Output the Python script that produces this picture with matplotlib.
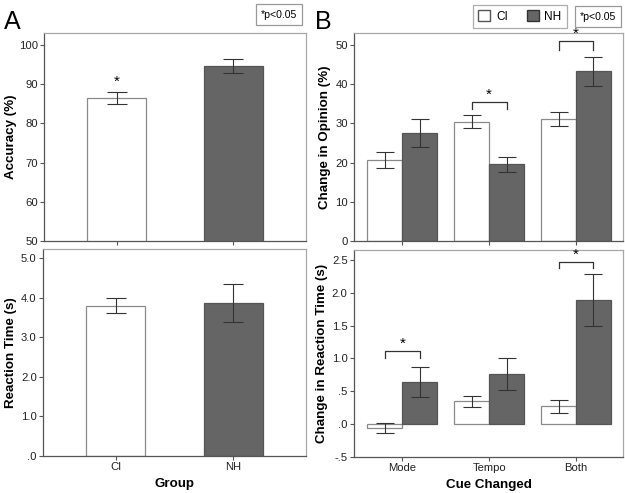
import numpy as np
import matplotlib
matplotlib.use('Agg')
import matplotlib.pyplot as plt
from matplotlib.patches import Patch

plt.rcParams['font.family'] = ['Liberation Sans', 'DejaVu Sans']

# panel A data
groups = ['CI', 'NH']
accuracy = [86.4, 94.5]
accuracy_err = [1.5, 1.8]
rt = [3.80, 3.86]
rt_err = [0.19, 0.48]

# panel B data
cues = ['Mode', 'Tempo', 'Both']
opinion_ci = [20.7, 30.4, 31.0]
opinion_ci_err = [2.0, 1.6, 1.8]
opinion_nh = [27.5, 19.5, 43.2]
opinion_nh_err = [3.5, 1.9, 3.7]
drt_ci = [-0.06, 0.35, 0.275]
drt_ci_err = [0.08, 0.085, 0.10]
drt_nh = [0.64, 0.76, 1.89]
drt_nh_err = [0.23, 0.24, 0.39]

W, H = 625, 493
fig = plt.figure(figsize=(W / 100, H / 100), dpi=100)


def ax_px(left, top, right, bottom):
    return fig.add_axes([left / W, 1 - bottom / H, (right - left) / W, (bottom - top) / H])


dark = '#656565'
edge_light = '#8a8a8a'
err_col = '#333333'
fs = 8.1
lfs = 9.6


def style(ax):
    for s in ['top', 'right']:
        ax.spines[s].set_color('#a8a8a8')
    for s in ['left', 'bottom']:
        ax.spines[s].set_color('#555555')
    for s in ax.spines.values():
        s.set_linewidth(0.9)
    ax.tick_params(axis='both', direction='out', length=3, width=0.8,
                   color='#555555', labelsize=fs, pad=1.5, labelcolor='#222222')


axA1 = ax_px(44, 33, 306, 241)
axA2 = ax_px(43, 249, 306, 456)
axB1 = ax_px(354, 33, 623, 241)
axB2 = ax_px(354, 250, 623, 457)

xa = np.arange(len(groups))
for ax, vals, errs in [(axA1, accuracy, accuracy_err), (axA2, rt, rt_err)]:
    ax.bar(xa, vals, width=0.5, color=['white', dark],
           edgecolor=[edge_light, '#555555'], linewidth=0.9, zorder=2)
    ax.errorbar(xa, vals, yerr=errs, fmt='none', ecolor=err_col,
                elinewidth=0.8, capsize=7, capthick=0.8, zorder=3)
    ax.set_xlim(-0.62, 1.62)
    ax.set_xticks(xa)
    style(ax)

axA1.set_ylim(50, 103)
axA1.set_yticks([50, 60, 70, 80, 90, 100])
axA1.set_xticklabels([])
axA1.set_ylabel('Accuracy (%)', fontsize=lfs, fontweight='bold', labelpad=1)
axA1.text(0, accuracy[0] + accuracy_err[0] + 1.0, '*', ha='center', va='bottom', fontsize=11)

axA2.set_ylim(0, 5.23)
axA2.set_yticks([0, 1, 2, 3, 4, 5])
axA2.set_yticklabels(['.0', '1.0', '2.0', '3.0', '4.0', '5.0'])
axA2.set_xticklabels(groups)
axA2.set_xlabel('Group', fontsize=lfs, fontweight='bold', labelpad=4)
axA2.set_ylabel('Reaction Time (s)', fontsize=lfs, fontweight='bold', labelpad=3)

xb = np.arange(len(cues))
bw = 0.4
for ax, ci, cie, nh, nhe in [(axB1, opinion_ci, opinion_ci_err, opinion_nh, opinion_nh_err),
                             (axB2, drt_ci, drt_ci_err, drt_nh, drt_nh_err)]:
    ax.bar(xb - bw / 2, ci, width=bw, color='white', edgecolor=edge_light, linewidth=0.9, zorder=2)
    ax.bar(xb + bw / 2, nh, width=bw, color=dark, edgecolor='#555555', linewidth=0.9, zorder=2)
    ax.errorbar(xb - bw / 2, ci, yerr=cie, fmt='none', ecolor=err_col,
                elinewidth=0.8, capsize=6.5, capthick=0.8, zorder=3)
    ax.errorbar(xb + bw / 2, nh, yerr=nhe, fmt='none', ecolor=err_col,
                elinewidth=0.8, capsize=6.5, capthick=0.8, zorder=3)
    ax.set_xlim(-0.555, 2.54)
    ax.set_xticks(xb)
    style(ax)


def bracket(ax, i, y, leg):
    x0, x1 = i - bw / 2, i + bw / 2
    ax.plot([x0, x0, x1, x1], [y - leg, y, y, y - leg], color='#333333', lw=0.9, zorder=4)
    ax.text(i, y, '*', ha='center', va='bottom', fontsize=11)


axB1.set_ylim(0, 53)
axB1.set_yticks([0, 10, 20, 30, 40, 50])
axB1.set_xticklabels([])
axB1.set_ylabel('Change in Opinion (%)', fontsize=lfs, fontweight='bold', labelpad=3)
bracket(axB1, 1, 35.5, 1.9)
bracket(axB1, 2, 50.9, 2.3)

axB2.set_ylim(-0.5, 2.65)
axB2.set_yticks([-0.5, 0, 0.5, 1.0, 1.5, 2.0, 2.5])
axB2.set_yticklabels(['-.5', '.0', '.5', '1.0', '1.5', '2.0', '2.5'])
axB2.set_xticklabels(cues)
axB2.set_xlabel('Cue Changed', fontsize=lfs, fontweight='bold', labelpad=4)
axB2.set_ylabel('Change in Reaction Time (s)', fontsize=lfs, fontweight='bold', labelpad=3)
bracket(axB2, 0, 1.12, 0.11)
bracket(axB2, 2, 2.47, 0.10)

# panel letters
fig.text(4 / W, 1 - 29 / H, 'A', fontsize=18, ha='left', va='baseline')
fig.text(315 / W, 1 - 29 / H, 'B', fontsize=18, ha='left', va='baseline')

# p-value boxes
box = dict(boxstyle='square,pad=0.5', fc='white', ec='#999999', lw=0.9)
fig.text(279 / W, 1 - 14.5 / H, '*p<0.05', fontsize=7.6, ha='center', va='center', bbox=box)
fig.text(598 / W, 1 - 16.5 / H, '*p<0.05', fontsize=7.6, ha='center', va='center', bbox=box)

handles = [Patch(facecolor='white', edgecolor='#555555', label='CI'),
           Patch(facecolor=dark, edgecolor='#333333', label='NH')]
leg = fig.legend(handles=handles, ncol=2, loc='center', bbox_to_anchor=(520 / W, 1 - 16.5 / H),
                 fontsize=8.5, frameon=True, fancybox=False, edgecolor='#999999',
                 handlelength=1.0, handleheight=1.0, handletextpad=0.5, columnspacing=1.6,
                 borderpad=0.45)
leg.get_frame().set_linewidth(0.9)

fig.savefig('out.png', dpi=100)
